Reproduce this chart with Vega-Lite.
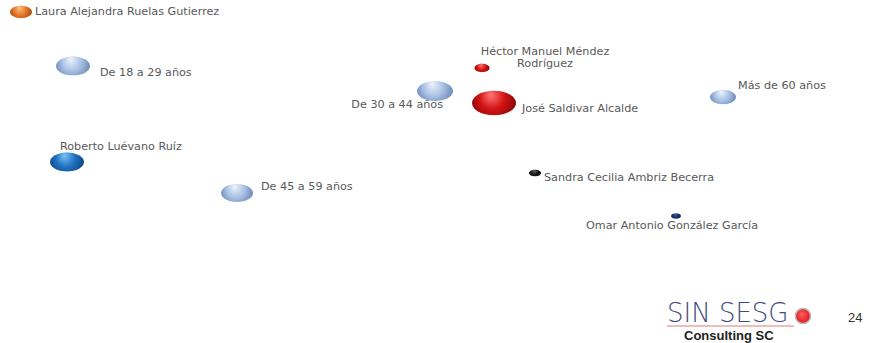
{
  "$schema": "https://vega.github.io/schema/vega-lite/v6.json",
  "width": 876,
  "height": 343,
  "padding": 0,
  "autosize": {"type": "fit", "contains": "padding"},
  "background": "white",
  "config": {"view": {"stroke": null}},
  "data": {"values": [
    {"nombre": "Laura Alejandra Ruelas Gutierrez", "grupo": "naranja", "alin": "izq", "x": 21, "y": 12, "peso": 4.84, "lx": 35, "ly": 12},
    {"nombre": "De 18 a 29 años", "grupo": "edad", "alin": "izq", "x": 73, "y": 66, "peso": 11.56, "lx": 100, "ly": 73},
    {"nombre": "Héctor Manuel Méndez\nRodríguez", "grupo": "rojo", "alin": "centro", "x": 482, "y": 68, "peso": 2.25, "lx": 545, "ly": 52},
    {"nombre": "De 30 a 44 años", "grupo": "edad", "alin": "der", "x": 435, "y": 91, "peso": 12.96, "lx": 443, "ly": 105},
    {"nombre": "José Saldivar Alcalde", "grupo": "rojo", "alin": "izq", "x": 494, "y": 103, "peso": 19.36, "lx": 522, "ly": 109},
    {"nombre": "Más de 60 años", "grupo": "edad", "alin": "izq", "x": 723, "y": 97, "peso": 6.76, "lx": 738, "ly": 86},
    {"nombre": "Roberto Luévano Ruíz", "grupo": "azul", "alin": "izq", "x": 67, "y": 162, "peso": 11.56, "lx": 60, "ly": 147},
    {"nombre": "De 45 a 59 años", "grupo": "edad", "alin": "izq", "x": 237, "y": 193, "peso": 10.24, "lx": 261, "ly": 187},
    {"nombre": "Sandra Cecilia Ambriz Becerra", "grupo": "negro", "alin": "izq", "x": 535, "y": 173, "peso": 1.44, "lx": 544, "ly": 178},
    {"nombre": "Omar Antonio González García", "grupo": "marino", "alin": "centro", "x": 676, "y": 216, "peso": 1.0, "lx": 672, "ly": 226}
  ]},
  "encoding": {
    "x": {"field": "x", "type": "quantitative", "scale": {"domain": [0, 876], "nice": false, "zero": false}, "axis": null},
    "y": {"field": "y", "type": "quantitative", "scale": {"domain": [0, 343], "nice": false, "zero": false, "reverse": true}, "axis": null}
  },
  "layer": [
    {
      "transform": [{"filter": "datum.grupo == 'edad'"}],
      "mark": {"type": "point", "filled": true, "opacity": 1, "shape": "M-1,0A1,0.56,0,1,1,1,0A1,0.56,0,1,1,-1,0Z",
        "fill": {"gradient": "radial", "x1": 0.42, "y1": 0.3, "r1": 0, "x2": 0.5, "y2": 0.45, "r2": 0.62,
          "stops": [{"offset": 0, "color": "#eef4fc"}, {"offset": 0.45, "color": "#a9c1e4"}, {"offset": 1, "color": "#5673a3"}]}},
      "encoding": {"size": {"field": "peso", "type": "quantitative", "scale": {"domain": [0, 20], "range": [0, 2000]}, "legend": null}}
    },
    {
      "transform": [{"filter": "datum.grupo == 'naranja'"}],
      "mark": {"type": "point", "filled": true, "opacity": 1, "shape": "M-1,0A1,0.56,0,1,1,1,0A1,0.56,0,1,1,-1,0Z",
        "fill": {"gradient": "radial", "x1": 0.42, "y1": 0.3, "r1": 0, "x2": 0.5, "y2": 0.45, "r2": 0.62,
          "stops": [{"offset": 0, "color": "#fbc48a"}, {"offset": 0.45, "color": "#e6782a"}, {"offset": 1, "color": "#8c3c0a"}]}},
      "encoding": {"size": {"field": "peso", "type": "quantitative", "legend": null}}
    },
    {
      "transform": [{"filter": "datum.grupo == 'rojo'"}],
      "mark": {"type": "point", "filled": true, "opacity": 1, "shape": "M-1,0A1,0.56,0,1,1,1,0A1,0.56,0,1,1,-1,0Z",
        "fill": {"gradient": "radial", "x1": 0.42, "y1": 0.3, "r1": 0, "x2": 0.5, "y2": 0.45, "r2": 0.62,
          "stops": [{"offset": 0, "color": "#ff7a7a"}, {"offset": 0.45, "color": "#d41414"}, {"offset": 1, "color": "#6e0000"}]}},
      "encoding": {"size": {"field": "peso", "type": "quantitative", "legend": null}}
    },
    {
      "transform": [{"filter": "datum.grupo == 'azul'"}],
      "mark": {"type": "point", "filled": true, "opacity": 1, "shape": "M-1,0A1,0.56,0,1,1,1,0A1,0.56,0,1,1,-1,0Z",
        "fill": {"gradient": "radial", "x1": 0.42, "y1": 0.3, "r1": 0, "x2": 0.5, "y2": 0.45, "r2": 0.62,
          "stops": [{"offset": 0, "color": "#7cc4f4"}, {"offset": 0.45, "color": "#1f72c4"}, {"offset": 1, "color": "#0b3768"}]}},
      "encoding": {"size": {"field": "peso", "type": "quantitative", "legend": null}}
    },
    {
      "transform": [{"filter": "datum.grupo == 'negro'"}],
      "mark": {"type": "point", "filled": true, "opacity": 1, "shape": "M-1,0A1,0.56,0,1,1,1,0A1,0.56,0,1,1,-1,0Z",
        "fill": {"gradient": "radial", "x1": 0.42, "y1": 0.3, "r1": 0, "x2": 0.5, "y2": 0.45, "r2": 0.62,
          "stops": [{"offset": 0, "color": "#666666"}, {"offset": 0.45, "color": "#1a1a1a"}, {"offset": 1, "color": "#000000"}]}},
      "encoding": {"size": {"field": "peso", "type": "quantitative", "legend": null}}
    },
    {
      "transform": [{"filter": "datum.grupo == 'marino'"}],
      "mark": {"type": "point", "filled": true, "opacity": 1, "shape": "M-1,0A1,0.56,0,1,1,1,0A1,0.56,0,1,1,-1,0Z",
        "fill": {"gradient": "radial", "x1": 0.42, "y1": 0.3, "r1": 0, "x2": 0.5, "y2": 0.45, "r2": 0.62,
          "stops": [{"offset": 0, "color": "#4a6aa8"}, {"offset": 0.45, "color": "#1a2f6a"}, {"offset": 1, "color": "#0a1640"}]}},
      "encoding": {"size": {"field": "peso", "type": "quantitative", "legend": null}}
    },
    {
      "transform": [{"filter": "datum.alin == 'izq'"}],
      "mark": {"type": "text", "align": "left", "baseline": "middle", "font": "DejaVu Sans", "fontSize": 11.2, "color": "#595959"},
      "encoding": {
        "x": {"field": "lx", "type": "quantitative"},
        "y": {"field": "ly", "type": "quantitative"},
        "text": {"field": "nombre"}
      }
    },
    {
      "transform": [{"filter": "datum.alin == 'der'"}],
      "mark": {"type": "text", "align": "right", "baseline": "middle", "font": "DejaVu Sans", "fontSize": 11.2, "color": "#595959"},
      "encoding": {
        "x": {"field": "lx", "type": "quantitative"},
        "y": {"field": "ly", "type": "quantitative"},
        "text": {"field": "nombre"}
      }
    },
    {
      "transform": [{"filter": "datum.alin == 'centro'"}],
      "mark": {"type": "text", "align": "center", "baseline": "middle", "lineBreak": "\n", "lineHeight": 11.5, "font": "DejaVu Sans", "fontSize": 11.2, "color": "#595959"},
      "encoding": {
        "x": {"field": "lx", "type": "quantitative"},
        "y": {"field": "ly", "type": "quantitative"},
        "text": {"field": "nombre"}
      }
    },
    {
      "data": {"values": [{"t": "SIN SESG", "x": 667, "y": 314}]},
      "mark": {"type": "text", "align": "left", "baseline": "middle", "font": "DejaVu Sans", "fontWeight": 200, "fontSize": 26, "color": "#3f4c80"},
      "encoding": {"text": {"field": "t"}}
    },
    {
      "data": {"values": [{"x": 667, "x2": 794, "y": 326}]},
      "mark": {"type": "rule", "color": "#e07a7a", "strokeWidth": 1},
      "encoding": {"x2": {"field": "x2"}}
    },
    {
      "data": {"values": [{"x": 803, "y": 316}]},
      "mark": {"type": "point", "filled": true, "opacity": 1, "size": 230, "shape": "circle", "stroke": "#b8b8b8", "strokeWidth": 1.5,
        "fill": {"gradient": "radial", "x1": 0.4, "y1": 0.35, "r1": 0, "x2": 0.5, "y2": 0.5, "r2": 0.55,
          "stops": [{"offset": 0, "color": "#ff6060"}, {"offset": 1, "color": "#e0141e"}]}},
      "encoding": {}
    },
    {
      "data": {"values": [{"t": "Consulting SC", "x": 684, "y": 335.5}]},
      "mark": {"type": "text", "align": "left", "baseline": "middle", "font": "Liberation Sans", "fontWeight": "bold", "fontSize": 13, "color": "#222222"},
      "encoding": {"text": {"field": "t"}}
    },
    {
      "data": {"values": [{"t": "24", "x": 848, "y": 318}]},
      "mark": {"type": "text", "align": "left", "baseline": "middle", "font": "Liberation Sans", "fontSize": 13, "color": "#333333"},
      "encoding": {"text": {"field": "t"}}
    }
  ]
}
